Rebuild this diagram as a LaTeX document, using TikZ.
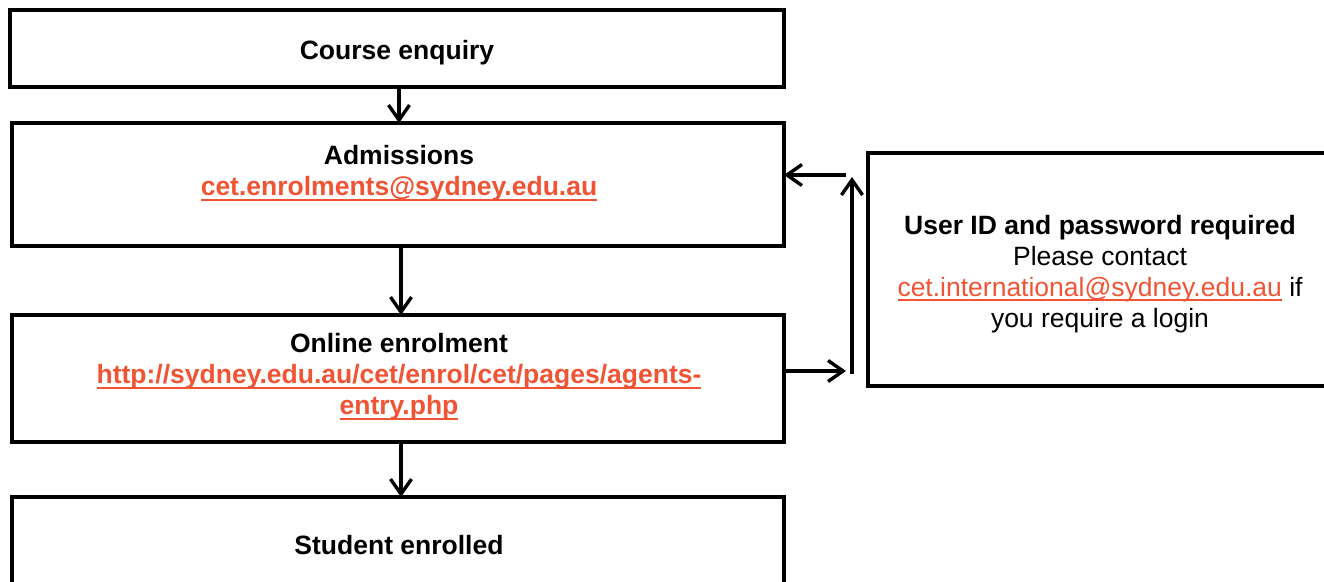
\documentclass[tikz,border=0pt]{standalone}
\usepackage{fontspec}
\setmainfont{Liberation Sans}
\usetikzlibrary{arrows.meta}
\definecolor{linkc}{RGB}{240,84,52}
\newsavebox\lnkbox
\newcommand\blink[1]{{\color{linkc}\sbox\lnkbox{#1}\leavevmode\rlap{\vrule height -3pt depth 5.6pt width \wd\lnkbox}\usebox\lnkbox}}
\newcommand\rlink[1]{{\color{linkc}\sbox\lnkbox{#1}\leavevmode\rlap{\vrule height -3pt depth 5pt width \wd\lnkbox}\usebox\lnkbox}}
\tikzset{
  box/.style={draw=black, line width=4.6pt, rectangle, inner sep=0pt, outer sep=0pt},
  txt/.style={align=center, inner sep=0pt, font=\fontsize{26.5}{31}\selectfont},
  arr/.style={line width=3.4pt, -{Straight Barb[length=15pt,width=21pt]}},
}
\begin{document}
\begin{tikzpicture}[x=1pt,y=-1pt]
\useasboundingbox (0,0) rectangle (1324,581);
\clip (0,0) rectangle (1324,581);
% boxes
\node[box, minimum width=774pt, minimum height=77pt] (course) at (397,48.5) {};
\node[box, minimum width=772pt, minimum height=123pt] (adm) at (398,184.5) {};
\node[box, minimum width=772pt, minimum height=127pt] (online) at (398,378.5) {};
\node[box, minimum width=772pt, minimum height=110pt] (student) at (398,552) {};
\node[box, minimum width=480pt, minimum height=233pt] (user) at (1108,269.5) {};
% texts
\node[txt] (tcourse) at (397,52.5) {\textbf{Course enquiry}};
\node[txt] (tadm) at (399,173.5) {\textbf{Admissions}\\\textbf{\blink{cet.enrolments@sydney.edu.au}}};
\node[txt] (tonline) at (399,377) {\textbf{Online enrolment}\\\textbf{\blink{http://sydney.edu.au/cet/enrol/cet/pages/agents-}}\\\textbf{\blink{entry.php}}};
\node[txt] (tstudent) at (399,545.5) {\textbf{Student enrolled}};
\node[txt] (tuser) at (1100,274) {\textbf{User ID and password required}\\Please contact\\\rlink{cet.international@sydney.edu.au} if\\you require a login};
% connectors
\draw[arr] (course.south -| 399,0) -- (adm.north -| 399,0);
\draw[arr] (adm.south -| 401,0) -- (online.north -| 401,0);
\draw[arr] (online.south -| 401,0) -- (student.north -| 401,0);
\coordinate (c1) at (846,371);
\coordinate (c2) at (852,374);
\coordinate (c3) at (852,177);
\coordinate (c4) at (846,175);
\draw[arr] (online.east |- c1) -- (c1);
\draw[arr] (c2) -- (c3);
\draw[arr] (c4) -- (adm.east |- c4);
\end{tikzpicture}
\end{document}
